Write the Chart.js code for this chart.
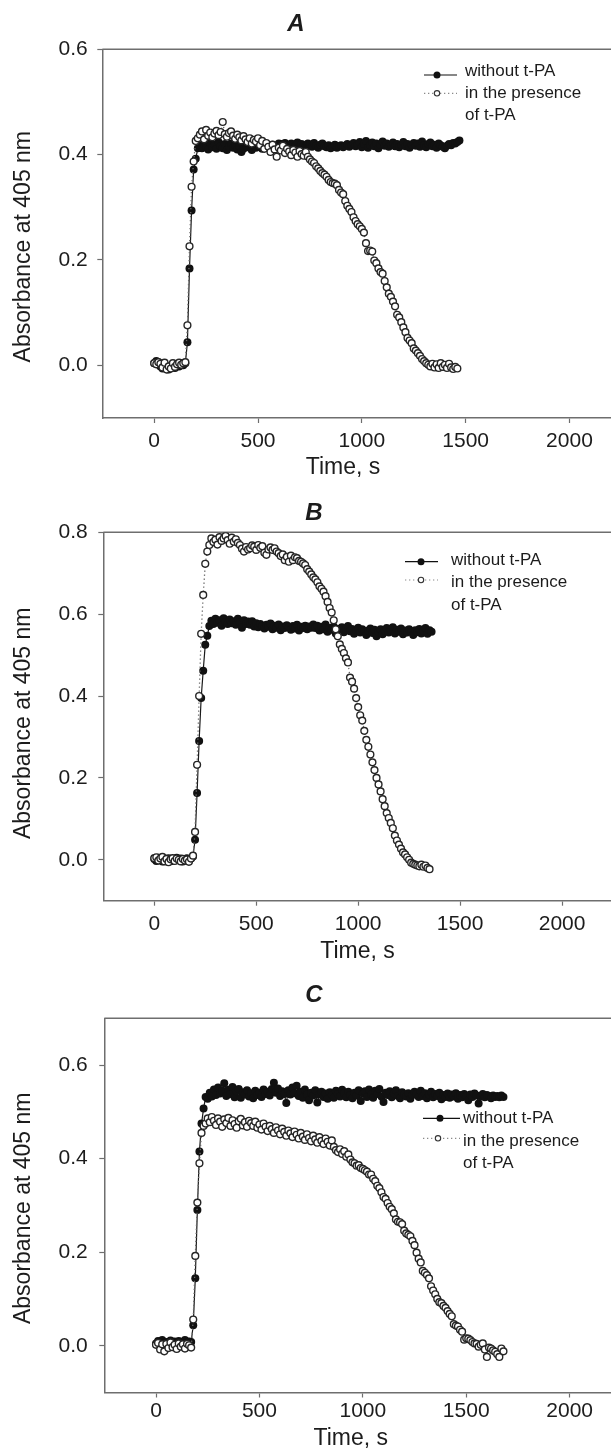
<!DOCTYPE html>
<html><head><meta charset="utf-8">
<script src="https://cdn.jsdelivr.net/npm/chart.js@4.4.1/dist/chart.umd.min.js"></script>
<style>
html,body{margin:0;padding:0;background:#fff;}
canvas{display:block;}
</style></head><body>
<canvas id="cA" width="611" height="480"></canvas>
<canvas id="cB" width="611" height="490"></canvas>
<canvas id="cC" width="611" height="480"></canvas>
<script>
// ---------- text & ticks ----------
const panelLabels = ['A', 'B', 'C'];
const seriesNames = ['without t-PA', 'in the presence of t-PA'];
const legendLines = [['without t-PA'], ['in the presence', 'of t-PA']];
const xTitle = 'Time, s';
const yTitle = 'Absorbance at 405 nm';
const xTicks = [0, 500, 1000, 1500, 2000];
const yTicksA = [0, 0.2, 0.4, 0.6];
const yTicksB = [0, 0.2, 0.4, 0.6, 0.8];
const yTicksC = [0, 0.2, 0.4, 0.6];

// ---------- data: absorbance sampled every 10 s from t = 0 ----------
const sampleStep = 10;

const withoutA = [
 0.004,0.008,0.006,-0.002,-0.006,0.002,-0.004,-0.008,-0.003,0.001,-0.005,0.002,-0.002,0.003,0.000,0.004,
 0.044,0.184,0.294,0.372,0.392,0.412,
 0.418,0.412,0.420,0.415,0.410,0.422,0.414,0.419,0.411,0.424,
 0.416,0.412,0.420,0.409,0.415,0.421,0.413,0.418,0.410,0.416,
 0.405,0.411,0.420,0.414,0.417,0.409,0.419,0.413,0.421,0.415,
 0.411,0.418,0.420,0.414,0.416,0.419,0.412,0.417,0.421,
 0.420,0.416,0.422,0.418,0.414,0.421,0.419,0.417,0.423,0.415,
 0.420,0.418,0.416,0.421,0.419,0.415,0.422,0.417,0.413,0.419,
 0.421,0.416,0.414,0.418,0.412,0.415,0.419,0.413,0.416,0.418,
 0.414,0.417,0.420,0.415,0.418,0.422,0.416,0.419,0.424,0.414,
 0.420,0.426,0.413,0.418,0.423,0.416,0.421,0.412,0.419,0.425,
 0.417,0.421,0.415,0.419,0.423,0.416,0.420,0.414,0.418,0.424,
 0.416,0.420,0.413,0.419,0.422,0.417,0.421,0.415,0.425,0.418,
 0.414,0.420,0.423,0.416,0.419,0.413,0.421,0.418,0.415,0.412,
 0.417,0.420,0.418,0.422,0.421,0.424,0.427
];
const withA = [
 0.004,0.002,0.006,0.003,-0.004,0.005,-0.008,-0.002,-0.006,0.004,-0.003,0.002,0.005,0.001,0.004,0.006,
 0.076,0.226,0.339,0.387,0.426,0.431,
 0.438,0.444,0.429,0.447,0.436,0.442,0.433,0.440,0.445,0.437,
 0.443,0.462,0.439,0.434,0.441,0.444,0.436,0.430,0.438,0.433,
 0.427,0.435,0.429,0.424,0.431,0.421,0.428,0.425,0.431,
 0.418,0.426,0.411,0.422,0.415,0.405,0.419,0.410,0.396,0.413,
 0.408,0.417,0.403,0.411,0.406,0.399,0.409,0.404,0.396,0.407,
 0.401,0.398,0.405,0.396,
 0.391,0.387,0.384,0.378,0.374,0.369,0.365,0.362,0.358,0.352,
 0.348,0.346,0.345,0.342,0.333,0.328,
 0.325,0.312,0.303,0.297,0.291,0.281,0.274,0.268,0.264,0.259,
 0.252,0.232,0.217,0.218,0.216,0.199,0.194,0.184,0.177,0.174,
 0.160,0.148,0.136,0.130,0.121,0.112,0.096,0.091,0.082,0.072,
 0.063,0.052,0.047,0.042,0.032,0.028,0.023,0.018,0.012,0.008,
 0.004,0.001,-0.002,0.003,-0.004,0.002,-0.005,0.004,-0.003,0.001,
 -0.005,0.003,-0.004,-0.007,-0.003,-0.006
];

const withoutB = [
 0.002,-0.003,0.005,0.001,-0.004,0.003,-0.002,0.004,0.000,-0.003,
 0.002,0.005,-0.001,0.003,-0.004,0.001,0.004,-0.002,0.003,0.008,
 0.049,0.163,0.290,0.395,0.462,0.525,0.547,
 0.571,0.584,0.576,0.589,0.579,0.585,0.572,0.590,0.581,0.576,
 0.587,0.578,0.583,0.574,0.589,0.580,0.567,0.585,0.576,0.582,
 0.574,0.583,0.570,0.578,0.568,0.576,0.571,0.565,0.574,0.569,
 0.577,0.563,0.572,0.567,0.575,0.561,0.570,0.566,0.573,0.568,
 0.562,0.571,0.565,0.574,0.560,0.569,0.566,0.572,0.563,0.570,
 0.567,0.575,
 0.566,0.572,0.560,0.569,0.563,0.575,0.557,0.566,0.562,0.570,
 0.553,0.564,0.559,0.568,0.556,0.562,0.571,0.558,0.564,0.552,
 0.561,0.567,0.555,0.563,0.558,0.549,0.560,0.565,0.554,0.562,
 0.546,0.557,0.563,0.551,0.560,0.566,0.555,0.561,0.568,0.553,
 0.562,0.557,0.565,0.551,0.560,0.555,0.563,0.558,0.549,0.561,
 0.556,0.564,0.553,0.559,0.566,0.552,0.561,0.557
];
const withB = [
 0.004,0.006,-0.002,0.003,0.007,-0.004,0.002,-0.006,0.001,0.004,
 -0.003,0.003,0.000,-0.004,0.002,-0.002,0.001,-0.005,0.003,0.010,
 0.068,0.232,0.400,0.552,0.647,0.723,0.753,0.769,0.785,
 0.776,0.782,0.770,0.788,0.779,0.785,0.791,0.781,0.772,0.787,0.777,0.783,0.774,0.769,
 0.760,0.753,0.764,0.758,0.761,0.768,0.765,0.757,0.769,0.762,
 0.766,0.750,0.745,0.758,0.763,0.757,0.761,0.753,0.749,0.742,
 0.746,0.732,0.740,0.728,0.743,0.732,0.739,0.737,0.730,0.728,
 0.724,0.720,
 0.710,0.704,0.697,0.690,0.685,0.678,0.668,0.662,0.655,0.644,
 0.630,0.615,0.604,0.585,0.563,0.546,0.526,0.515,0.505,0.492,
 0.482,0.445,0.435,0.418,0.395,0.373,0.353,0.340,0.315,0.293,
 0.276,0.257,0.238,0.219,0.200,0.184,0.167,0.148,0.131,0.114,
 0.102,0.090,0.077,0.059,0.047,0.037,0.027,0.018,0.013,0.006,
 0.000,-0.007,-0.010,-0.012,-0.014,-0.016,-0.012,-0.017,-0.014,-0.020,
 -0.023
];

const withoutC = [
 0.005,0.010,0.003,0.012,0.006,0.008,0.002,0.011,0.005,0.009,
 0.004,0.010,0.007,0.003,0.012,0.006,0.009,0.008,
 0.044,0.144,0.290,0.415,0.475,0.507,0.532,
 0.528,0.541,0.533,0.548,0.536,0.552,0.539,0.545,0.561,0.534,
 0.547,0.538,0.553,0.531,0.544,0.549,0.530,0.542,0.537,0.546,
 0.533,0.540,0.529,0.545,0.536,0.541,0.532,0.548,0.538,0.543,
 0.535,0.549,0.562,0.541,0.550,0.534,0.544,0.538,0.519,0.546,
 0.537,0.552,0.540,0.556,0.534,0.543,0.530,0.548,0.537,0.525,
 0.541,0.535,0.546,0.520,0.537,0.543,0.532,0.539,0.528,0.542,
 0.536,0.530,0.545,0.538,0.533,0.547,0.540,0.531,0.543,0.536,
 0.529,0.541,0.535,0.546,0.523,0.539,0.544,0.532,0.548,0.537,
 0.530,0.545,0.538,0.549,0.533,0.521,0.541,0.536,0.544,0.531,
 0.539,0.546,0.534,0.529,0.542,0.537,0.533,0.540,0.528,0.536,
 0.543,0.538,0.532,0.545,0.534,0.540,0.529,0.537,0.543,0.531,
 0.538,0.534,0.541,0.527,0.536,0.532,0.539,0.530,0.537,0.533,
 0.540,0.528,0.536,0.531,0.538,0.534,0.525,0.537,0.532,0.539,
 0.535,0.518,0.533,0.538,0.531,0.536,0.534,0.529,0.535,0.532,
 0.534,0.531,0.535,0.532
];
const withC = [
 0.002,0.006,-0.008,0.003,-0.012,0.004,-0.005,0.007,-0.003,0.002,
 -0.007,0.005,-0.002,0.003,-0.006,0.004,0.001,-0.004,
 0.056,0.192,0.306,0.390,0.455,0.470,0.475,0.486,
 0.478,0.489,0.481,0.472,0.486,0.479,0.468,0.484,0.476,0.487,
 0.470,0.482,0.474,0.466,0.480,0.485,0.471,0.478,0.468,0.481,
 0.476,0.470,0.479,0.466,0.473,0.462,0.475,0.468,0.459,0.470,
 0.463,0.455,0.467,0.460,0.452,0.464,0.457,0.449,0.460,0.454,
 0.446,0.458,0.451,0.443,0.455,0.447,0.440,0.452,0.444,0.437,
 0.449,0.441,0.434,0.446,0.438,0.431,0.443,0.436,0.428,0.439,
 0.425,0.418,0.414,0.420,0.410,0.416,0.404,0.409,0.398,0.392,
 0.390,0.385,0.386,0.380,0.378,0.375,0.372,0.366,0.366,0.357,
 0.352,0.342,0.337,0.328,0.318,0.314,0.305,0.297,0.292,0.283,
 0.270,0.265,0.264,0.260,0.246,0.240,0.237,0.234,0.224,0.215,
 0.199,0.186,0.178,0.160,0.156,0.151,0.144,0.127,0.118,0.110,
 0.100,0.093,0.091,0.085,0.081,0.074,0.068,0.063,0.046,0.043,
 0.041,0.034,0.030,0.013,0.016,0.015,0.012,0.008,0.005,0.004,
 -0.002,0.002,0.005,-0.008,-0.024,-0.004,-0.006,-0.010,-0.013,-0.018,
 -0.024,-0.006,-0.012
];

// ---------- styling ----------
const FONT = '"Liberation Sans", Arial, Helvetica, sans-serif';
const AXIS_COLOR = '#6e6e6e';
const TEXT_COLOR = '#1c1c1c';

function toPoints(values) {
  return values.map((v, i) => ({ x: i * sampleStep, y: v }));
}

const decor = {
  id: 'decor',
  beforeDatasetsDraw(chart, args, o) {
    const { ctx, chartArea: a } = chart;
    ctx.save();
    ctx.strokeStyle = AXIS_COLOR;
    ctx.lineWidth = 1.5;
    ctx.beginPath();
    ctx.moveTo(a.left, a.top);
    ctx.lineTo(chart.width, a.top);
    ctx.stroke();
    ctx.restore();
  },
  afterDraw(chart, args, o) {
    const ctx = chart.ctx;
    ctx.save();
    ctx.fillStyle = TEXT_COLOR;
    ctx.textBaseline = 'middle';
    ctx.font = 'italic bold 24px ' + FONT;
    ctx.textAlign = 'center';
    ctx.fillText(o.letter, o.letterPos[0], o.letterPos[1]);
    ctx.font = '23px ' + FONT;
    ctx.fillText(xTitle, o.xTitlePos[0], o.xTitlePos[1]);
    ctx.save();
    ctx.translate(o.yTitlePos[0], o.yTitlePos[1]);
    ctx.rotate(-Math.PI / 2);
    ctx.fillText(yTitle, 0, 0);
    ctx.restore();
    const L = o.legend;
    ctx.lineWidth = 1.2;
    ctx.strokeStyle = '#111';
    ctx.setLineDash([]);
    ctx.beginPath(); ctx.moveTo(L.x1, L.l0); ctx.lineTo(L.x2, L.l0); ctx.stroke();
    ctx.fillStyle = '#111';
    ctx.beginPath(); ctx.arc(L.m0, L.l0, 3.5, 0, Math.PI * 2); ctx.fill();
    ctx.strokeStyle = '#8a8a8a';
    ctx.setLineDash([1.3, 2.7]);
    ctx.beginPath(); ctx.moveTo(L.x1, L.l1); ctx.lineTo(L.x2, L.l1); ctx.stroke();
    ctx.setLineDash([]);
    ctx.fillStyle = '#fff';
    ctx.strokeStyle = '#333';
    ctx.lineWidth = 1.1;
    ctx.beginPath(); ctx.arc(L.m1, L.l1, 2.7, 0, Math.PI * 2); ctx.fill(); ctx.stroke();
    ctx.fillStyle = TEXT_COLOR;
    ctx.textAlign = 'left';
    ctx.font = '17px ' + FONT;
    ctx.fillText(legendLines[0][0], L.tx, L.t[0]);
    ctx.fillText(legendLines[1][0], L.tx, L.t[1]);
    ctx.fillText(legendLines[1][1], L.tx, L.t[2]);
    ctx.restore();
  }
};

function makePanel(id, c) {
  return new Chart(document.getElementById(id), {
    type: 'scatter',
    data: {
      datasets: [
        {
          label: seriesNames[1], data: toPoints(c.withT), showLine: true, order: 0,
          borderColor: '#6a6a6a', borderWidth: 1.3, borderDash: [1.3, 2.7],
          pointRadius: 3.4, pointBackgroundColor: '#ffffff',
          pointBorderColor: '#262626', pointBorderWidth: 1.4, pointHoverRadius: 3.4
        },
        {
          label: seriesNames[0], data: toPoints(c.withoutT), showLine: true, order: 1,
          borderColor: '#1a1a1a', borderWidth: 1.2,
          pointRadius: 4, pointBackgroundColor: '#111111',
          pointBorderColor: '#111111', pointBorderWidth: 0, pointHoverRadius: 4
        }
      ]
    },
    options: {
      responsive: false, animation: false, devicePixelRatio: 1,
      events: [],
      layout: { autoPadding: false, padding: { top: c.top, left: 0, right: 0, bottom: 0 } },
      plugins: { legend: { display: false }, tooltip: { enabled: false }, decor: c.decor },
      scales: {
        x: {
          type: 'linear', min: -250, max: c.xMax,
          afterFit: s => { s.height = c.xAxisH; s.paddingLeft = 0; s.paddingRight = 0; },
          afterBuildTicks: s => { s.ticks = xTicks.map(v => ({ value: v })); },
          ticks: { padding: c.xPad, color: TEXT_COLOR, font: { family: FONT, size: 21 },
                   maxRotation: 0, autoSkip: false, callback: v => String(v) },
          grid: { drawOnChartArea: false, drawTicks: true, tickLength: 5, tickColor: AXIS_COLOR, tickWidth: 1.2 },
          border: { display: true, color: AXIS_COLOR, width: 1.5 },
          title: { display: false }
        },
        y: {
          type: 'linear', min: -0.1, max: c.yMax,
          afterFit: s => { s.width = c.left; },
          afterBuildTicks: s => { s.ticks = c.yTicks.map(v => ({ value: v })); },
          ticks: { padding: c.yPad, color: TEXT_COLOR, font: { family: FONT, size: 21 },
                   autoSkip: false, callback: v => Number(v).toFixed(1) },
          grid: { drawOnChartArea: false, drawTicks: true, tickLength: 5, tickColor: AXIS_COLOR, tickWidth: 1.2 },
          border: { display: true, color: AXIS_COLOR, width: 1.5 },
          title: { display: false }
        }
      }
    },
    plugins: [decor]
  });
}

makePanel('cA', {
  withT: withA, withoutT: withoutA, yTicks: yTicksA, yMax: 0.6, xMax: 2200,
  top: 49.3, left: 102.3, xAxisH: 62, xPad: 5.4, yPad: 9.5,
  decor: {
    letter: panelLabels[0], letterPos: [296, 24.5],
    xTitlePos: [343, 468], yTitlePos: [23.3, 246.7],
    legend: { x1: 424, x2: 457, m0: 437, m1: 437, l0: 75, l1: 93.3, tx: 465, t: [71.5, 93.3, 115] }
  }
});
makePanel('cB', {
  withT: withB, withoutT: withoutB, yTicks: yTicksB, yMax: 0.8, xMax: 2240,
  top: 52.3, left: 103.3, xAxisH: 69.3, xPad: 6.4, yPad: 10.5,
  decor: {
    letter: panelLabels[1], letterPos: [314, 33.3],
    xTitlePos: [357.5, 471.5], yTitlePos: [23.3, 243.3],
    legend: { x1: 405, x2: 438, m0: 421, m1: 421, l0: 81.7, l1: 100, tx: 451, t: [80, 102.5, 125.5] }
  }
});
makePanel('cC', {
  withT: withC, withoutT: withoutC, yTicks: yTicksC, yMax: 0.7, xMax: 2200,
  top: 48.3, left: 104.3, xAxisH: 57.5, xPad: 1.6, yPad: 11.5,
  decor: {
    letter: panelLabels[2], letterPos: [314, 25],
    xTitlePos: [350.8, 468.3], yTitlePos: [23.3, 238.3],
    legend: { x1: 423, x2: 460, m0: 440, m1: 438, l0: 148.3, l1: 168.3, tx: 463, t: [148.3, 171.2, 193.3] }
  }
});
</script>
</body></html>
